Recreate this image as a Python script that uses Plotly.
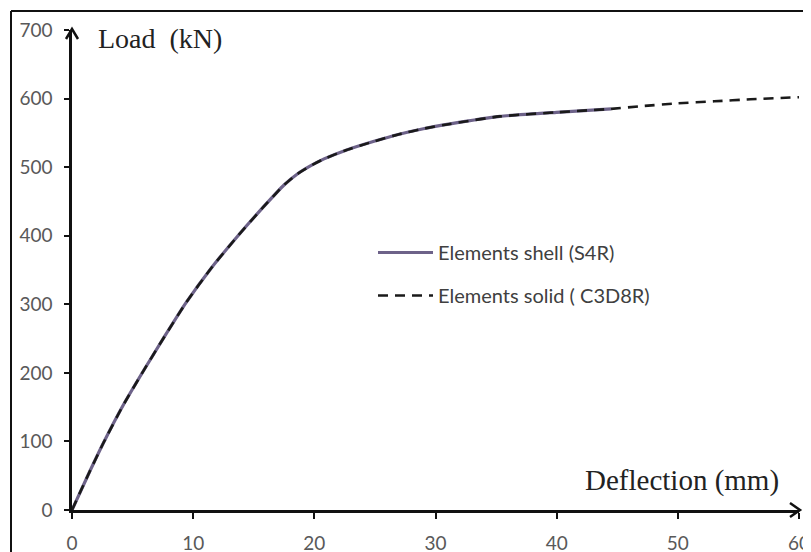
import plotly.graph_objects as go

# Data
shell_x = [0, 1.3, 2.6, 4.2, 5.9, 7.6, 9.4, 11.5, 13.7, 15.8, 17.5, 18.6, 19.6, 20.8, 22.5, 25, 27, 29, 31.2, 35.3, 40, 44.5]
shell_y = [0, 50, 98, 152, 203, 252, 302, 353, 400, 442, 474, 490, 501, 512, 524, 538, 548, 556, 563, 574, 580, 585]
solid_x = shell_x + [47, 50, 53, 56, 60]
solid_y = shell_y + [589, 593, 596, 599, 602]
x_ticks = [0, 10, 20, 30, 40, 50, 60]
y_ticks = [0, 100, 200, 300, 400, 500, 600, 700]

# The page body adds an 8px offset; figure coordinates below are page pixels minus 8.
W, H = 811, 552
L, R, T, B = 64, 20, 22, 50
pw, ph = W - L - R, H - T - B


def px(xp):
    return (xp - L) / pw


def py(yp):
    return (H - B - yp) / ph


fig = go.Figure()
fig.add_trace(go.Scatter(x=shell_x, y=shell_y, mode="lines", name="Elements shell (S4R)",
                         legendgroup="a",
                         line=dict(color="#6d6289", width=3.2, shape="spline", smoothing=0.5)))
fig.add_trace(go.Scatter(x=solid_x, y=solid_y, mode="lines", name="Elements solid ( C3D8R)",
                         legendgroup="b",
                         line=dict(color="#1a1a1a", width=2.6, dash="10px,7px", shape="spline", smoothing=0.5)))

tick_font = dict(family="Lato, 'Open Sans', sans-serif", size=19, color="#595959")
fig.update_xaxes(range=[0, 60], tickvals=x_ticks, showgrid=False, zeroline=False,
                 showline=True, linecolor="#111", linewidth=2.5, automargin=False,
                 ticks="outside", ticklen=6, tickwidth=2, tickcolor="#111",
                 tickfont=tick_font, ticklabelstandoff=8)
fig.update_yaxes(range=[0, 700], tickvals=y_ticks, showgrid=False, zeroline=False,
                 showline=True, linecolor="#111", linewidth=2.5, automargin=False,
                 ticks="outside", ticklen=5, tickwidth=2, tickcolor="#111",
                 tickfont=tick_font, ticklabelstandoff=8)

shapes = [
    # x-axis arrow head
    dict(type="path", xref="paper", yref="paper", xsizemode="pixel", ysizemode="pixel",
         xanchor=1.0, yanchor=0, path="M -9,7 L 1,0 L -9,-7",
         line=dict(color="#111", width=2.5)),
    # y-axis arrow head
    dict(type="path", xref="paper", yref="paper", xsizemode="pixel", ysizemode="pixel",
         xanchor=0, yanchor=1.0, path="M -6,-9 L 0,1 L 6,-9",
         line=dict(color="#111", width=2.5)),
    # outer frame (top and left)
    dict(type="line", xref="paper", yref="paper",
         x0=px(3), x1=1.2, y0=py(3), y1=py(3), line=dict(color="#111", width=2)),
    dict(type="line", xref="paper", yref="paper",
         x0=px(3), x1=px(3), y0=-0.2, y1=py(3), line=dict(color="#111", width=2)),
]

annotations = [
    dict(text="Load  (kN)", xref="paper", yref="paper", x=px(88), y=py(30),
         xanchor="left", yanchor="middle", showarrow=False,
         font=dict(family="Liberation Serif, 'Times New Roman', serif", size=28, color="#222")),
    dict(text="Deflection (mm)", xref="paper", yref="paper", x=px(773), y=py(472),
         xanchor="right", yanchor="middle", showarrow=False,
         font=dict(family="Liberation Serif, 'Times New Roman', serif", size=29, color="#222")),
]

fig.update_layout(
    width=W, height=H,
    margin=dict(l=L, r=R, t=T, b=B),
    plot_bgcolor="white", paper_bgcolor="white",
    shapes=shapes, annotations=annotations,
    showlegend=True,
    legend=dict(x=px(365), y=py(225), xanchor="left", yanchor="top",
                bgcolor="rgba(0,0,0,0)", traceorder="grouped", tracegroupgap=14,
                itemwidth=55, font=dict(family="Lato, 'Open Sans', sans-serif", size=20, color="#404040")),
)

fig.write_html("out.html")
